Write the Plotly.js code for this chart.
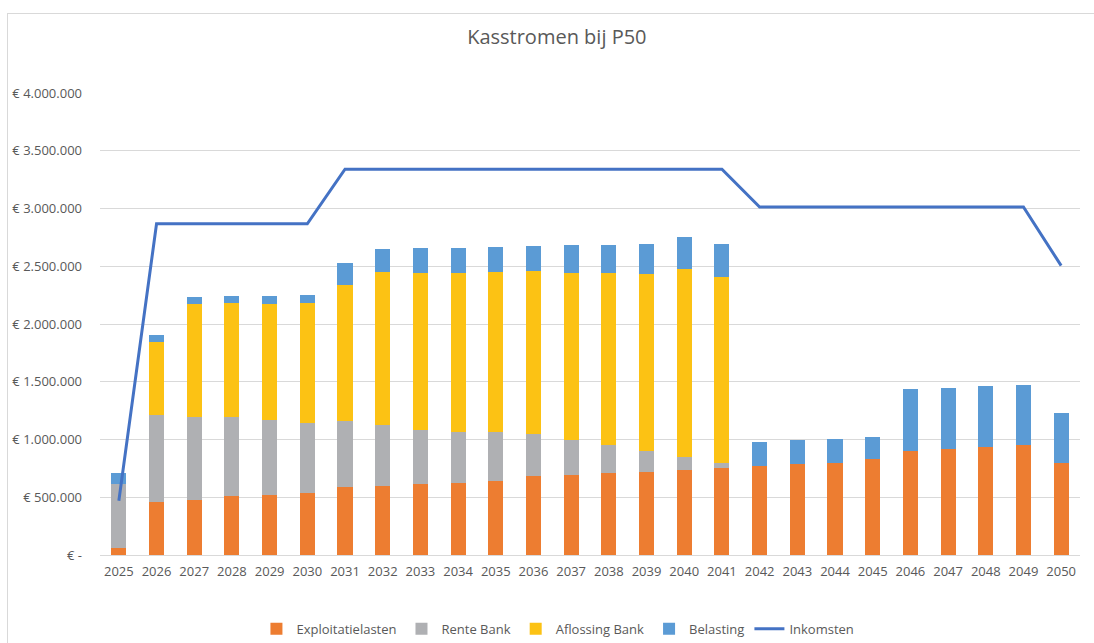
<!DOCTYPE html>
<html>
<head>
<meta charset="utf-8">
<script src="https://cdn.plot.ly/plotly-3.0.1.min.js"></script>
<style>
  html, body { margin: 0; padding: 0; background: #ffffff; }
  #frame { position: absolute; left: 7px; top: 13px; width: 1090px; height: 632px; border: 1px solid #d9d9d9; box-sizing: border-box; }
  #chart { position: absolute; left: 0; top: 0; width: 1094px; height: 643px; }
</style>
</head>
<body>
<div id="frame"></div>
<div id="chart"></div>
<script>
const years = ['2025','2026','2027','2028','2029','2030','2031','2032','2033','2034','2035','2036','2037',
  '2038','2039','2040','2041','2042','2043','2044','2045','2046','2047','2048','2049','2050'];

const exploitatielasten = [57000, 455000, 473000, 507000, 516000, 533000, 585000, 600000, 611000, 623000, 641000, 681000, 689000,
  707000, 715000, 733000, 756000, 767000, 785000, 799000, 828000, 903000, 918000, 938000, 955000, 796000];

const renteBank = [560000, 754000, 722000, 688000, 650000, 612000, 572000, 522000, 474000, 445000, 421000, 363000, 303000,
  242000, 182000, 112000, 40000, 0, 0, 0, 0, 0, 0, 0, 0, 0];

const aflossingBank = [0, 638000, 975000, 987000, 1010000, 1034000, 1177000, 1325000, 1356000, 1373000, 1385000, 1412000, 1452000,
  1492000, 1539000, 1634000, 1614000, 0, 0, 0, 0, 0, 0, 0, 0, 0];

const belasting = [95000, 58000, 64000, 63000, 69000, 75000, 197000, 202000, 214000, 220000, 220000, 222000, 237000,
  246000, 259000, 274000, 285000, 214000, 211000, 208000, 196000, 534000, 530000, 522000, 519000, 433000];

const inkomsten = [470000, 2868000, 2868000, 2868000, 2868000, 2868000, 3340000, 3340000, 3340000, 3340000, 3340000, 3340000, 3340000,
  3340000, 3340000, 3340000, 3340000, 3013000, 3013000, 3013000, 3013000, 3013000, 3013000, 3013000, 3013000, 2505000];

const yTickVals = [0, 500000, 1000000, 1500000, 2000000, 2500000, 3000000, 3500000, 4000000];
const yTickText = ['€ -', '€ 500.000', '€ 1.000.000', '€ 1.500.000', '€ 2.000.000', '€ 2.500.000', '€ 3.000.000', '€ 3.500.000', '€ 4.000.000'];

const fontFam = '"Open Sans", "Noto Sans", sans-serif';
const txtColor = '#595959';

const traces = [
  { type: 'bar', name: 'Exploitatielasten', x: years, y: exploitatielasten, marker: { color: '#ED7D31' } },
  { type: 'bar', name: 'Rente Bank', x: years, y: renteBank, marker: { color: '#AFB0B3' } },
  { type: 'bar', name: 'Aflossing Bank', x: years, y: aflossingBank, marker: { color: '#FCC214' } },
  { type: 'bar', name: 'Belasting', x: years, y: belasting, marker: { color: '#5B9BD5' } },
  { type: 'scatter', mode: 'lines', name: 'Inkomsten', x: years, y: inkomsten, line: { color: '#4472C4', width: 3 } }
];

const layout = {
  width: 1094, height: 643,
  paper_bgcolor: 'rgba(0,0,0,0)',
  plot_bgcolor: 'rgba(0,0,0,0)',
  margin: { l: 100, r: 14, t: 93, b: 88 },
  barmode: 'stack',
  bargap: 0.6,
  font: { family: fontFam, color: txtColor, size: 13 },
  title: { text: 'Kasstromen bij P50', x: 0.509, xref: 'container', xanchor: 'center', y: 0.943, yref: 'container', yanchor: 'middle',
           font: { family: fontFam, size: 20, color: txtColor } },
  xaxis: { type: 'category', showgrid: false, showline: true, linecolor: '#d9d9d9', linewidth: 1, ticks: '',
           ticklabelstandoff: 4, tickfont: { size: 13, color: txtColor }, fixedrange: true },
  yaxis: { range: [0, 4000000], tickvals: yTickVals, ticktext: yTickText, showgrid: true, gridcolor: '#d9d9d9', gridwidth: 1,
           zeroline: false, showline: false, ticks: '', ticklabelstandoff: 17, tickfont: { size: 13, color: txtColor }, fixedrange: true },
  showlegend: true,
  legend: { orientation: 'h', xref: 'container', yref: 'container', x: 0.51, xanchor: 'center', y: 0.022, yanchor: 'middle',
            font: { size: 13, color: txtColor }, traceorder: 'normal', itemwidth: 30 }
};

Plotly.newPlot('chart', traces, layout, { displayModeBar: false, staticPlot: true });
</script>
</body>
</html>
